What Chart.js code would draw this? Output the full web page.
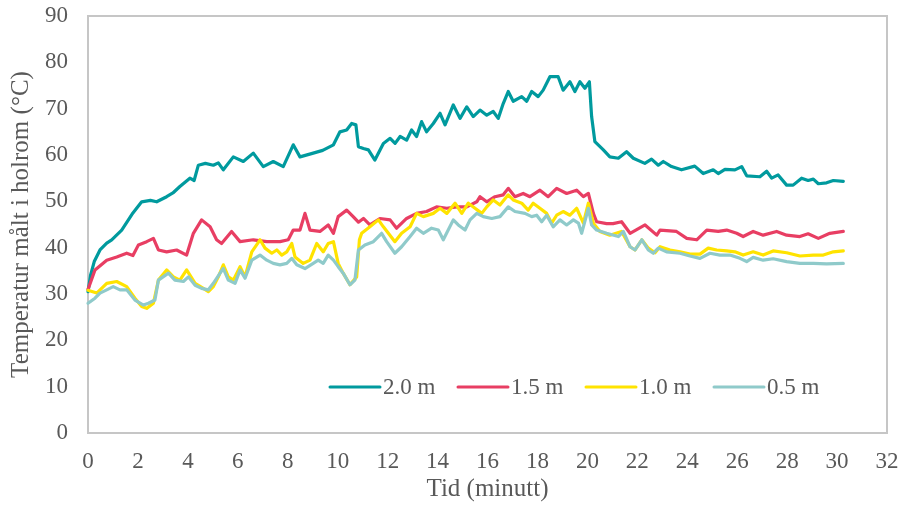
<!DOCTYPE html>
<html lang="no">
<head>
<meta charset="utf-8">
<title>Temperatur i holrom</title>
<script src="https://cdn.jsdelivr.net/npm/chart.js@4/dist/chart.umd.min.js"></script>
<style>
  html, body { margin: 0; padding: 0; background: #fff; }
  #wrap { width: 901px; height: 515px; }
</style>
</head>
<body>
<div id="wrap"><canvas id="graph" width="901" height="515"></canvas></div>
<script>
// tid (minutt) og temperatur (°C), lest av figuren
const seriesLabels = ['2.0 m', '1.5 m', '1.0 m', '0.5 m'];
const seriesColors = ['#009a9e', '#e83e63', '#ffe300', '#8fcaca'];

const t20 = [0, 0.1, 0.25, 0.48, 0.75, 0.95, 1.35, 1.8, 2.15, 2.5, 2.75, 3.15, 3.4, 3.68, 4.08, 4.25, 4.42, 4.7, 5.02, 5.22, 5.42, 5.82, 6.22, 6.62, 7.02, 7.42, 7.82, 8.22, 8.49, 9.02, 9.4, 9.83, 10.09, 10.36, 10.56, 10.73, 10.83, 11.03, 11.23, 11.49, 11.83, 12.1, 12.3, 12.5, 12.76, 12.96, 13.16, 13.36, 13.56, 13.83, 14.1, 14.3, 14.63, 14.9, 15.17, 15.43, 15.7, 15.97, 16.23, 16.43, 16.63, 16.83, 17.03, 17.37, 17.57, 17.77, 18.03, 18.23, 18.5, 18.83, 19.03, 19.3, 19.5, 19.7, 19.9, 20.08, 20.17, 20.3, 20.64, 20.9, 21.24, 21.57, 21.84, 22.3, 22.57, 22.84, 23.04, 23.37, 23.77, 24.3, 24.64, 25.04, 25.24, 25.51, 25.91, 26.18, 26.38, 26.91, 27.18, 27.38, 27.64, 27.98, 28.24, 28.58, 28.84, 29.05, 29.25, 29.58, 29.85, 30.25];
const v20 = [30.5, 34, 37, 39.5, 41, 41.7, 43.8, 47.5, 49.9, 50.2, 49.9, 51, 51.8, 53.2, 55, 54.5, 57.8, 58.2, 57.8, 58.3, 56.8, 59.6, 58.6, 60.4, 57.5, 58.6, 57.5, 62.2, 59.6, 60.4, 61, 62.2, 65, 65.4, 66.8, 66.5, 61.8, 61.4, 61.1, 58.9, 62.5, 63.6, 62.5, 64, 63.2, 65.4, 64, 67.2, 65, 66.8, 69, 66.5, 70.8, 67.9, 70.4, 68.3, 69.7, 68.6, 69.4, 67.9, 71.1, 73.7, 71.6, 72.6, 71.6, 73.7, 72.6, 74, 76.9, 76.9, 74, 75.8, 73.7, 75.8, 74.4, 75.8, 68.3, 62.9, 61.1, 59.6, 59.3, 60.7, 59.3, 58.2, 59.1, 57.8, 58.6, 57.5, 56.8, 57.6, 56, 56.8, 56, 56.9, 56.8, 57.5, 55.5, 55.3, 56.5, 55, 55.7, 53.5, 53.5, 55, 54.5, 54.8, 53.8, 54, 54.5, 54.3];

const t15 = [0, 0.28, 0.75, 1.15, 1.55, 1.8, 2.02, 2.35, 2.62, 2.82, 3.15, 3.55, 3.95, 4.22, 4.55, 4.89, 5.15, 5.35, 5.75, 6.09, 6.62, 7.16, 7.69, 8.02, 8.22, 8.49, 8.69, 8.89, 9.29, 9.62, 9.83, 10.02, 10.36, 10.62, 10.83, 11.03, 11.29, 11.69, 12.1, 12.36, 12.76, 13.16, 13.56, 13.96, 14.37, 14.77, 15.17, 15.57, 15.7, 15.97, 16.3, 16.63, 16.83, 17.1, 17.43, 17.7, 18.1, 18.43, 18.77, 19.17, 19.57, 19.84, 20.04, 20.24, 20.37, 20.77, 21.03, 21.37, 21.71, 22.31, 22.78, 22.91, 23.57, 23.98, 24.38, 24.78, 25.24, 25.58, 25.98, 26.24, 26.64, 27.04, 27.58, 27.98, 28.51, 28.84, 29.25, 29.71, 30.25];
const v15 = [31, 35.2, 37.3, 38, 38.8, 38.3, 40.6, 41.3, 42, 39.5, 39.1, 39.5, 38.4, 43.1, 46, 44.5, 41.7, 40.9, 43.5, 41.3, 41.7, 41.3, 41.3, 41.7, 43.8, 43.8, 47.4, 43.8, 43.5, 44.9, 43.1, 46.7, 48.1, 46.7, 45.5, 46.3, 44.9, 46.3, 46, 44.2, 46.3, 47.4, 47.8, 48.8, 48.5, 48.8, 48.8, 49.9, 51, 49.9, 51, 51.4, 52.8, 51, 51.7, 51, 52.4, 51, 52.8, 51.7, 52.4, 51, 51.7, 47.4, 45.6, 45.2, 45.2, 45.6, 43.1, 44.9, 42.7, 43.8, 43.5, 42, 41.7, 43.8, 43.5, 43.8, 43.1, 42.4, 43.5, 42.7, 43.5, 42.7, 42.4, 43, 42, 43.1, 43.5];

const t10 = [0, 0.35, 0.75, 1.15, 1.55, 1.88, 2.15, 2.35, 2.62, 2.82, 3.15, 3.42, 3.68, 3.95, 4.29, 4.62, 4.82, 5.02, 5.22, 5.42, 5.62, 5.82, 6.09, 6.29, 6.56, 6.89, 7.09, 7.36, 7.56, 7.76, 7.96, 8.16, 8.29, 8.62, 8.89, 9.16, 9.42, 9.62, 9.83, 10.02, 10.22, 10.49, 10.76, 10.87, 10.96, 11.29, 11.63, 11.83, 12.03, 12.29, 12.56, 12.9, 13.16, 13.43, 13.83, 14.1, 14.37, 14.7, 14.97, 15.23, 15.5, 15.77, 15.97, 16.23, 16.5, 16.83, 17.03, 17.37, 17.63, 17.83, 18.1, 18.37, 18.57, 18.77, 19.03, 19.3, 19.57, 19.84, 20.04, 20.24, 20.5, 20.9, 21.37, 21.71, 21.91, 22.18, 22.44, 22.71, 22.91, 23.31, 23.71, 24.11, 24.51, 24.84, 25.18, 25.58, 25.91, 26.24, 26.64, 27.04, 27.44, 27.98, 28.51, 29.05, 29.45, 29.85, 30.25];
const v10 = [30.8, 30.2, 32.3, 32.7, 31.6, 29.1, 27.3, 26.9, 28, 33, 35.2, 33.7, 33, 35.2, 32.3, 31.2, 30.5, 31.6, 33.7, 36.3, 33.7, 33, 35.9, 33.7, 39.1, 41.7, 39.9, 38.8, 39.5, 38.4, 39.1, 40.9, 38, 36.6, 37.3, 40.9, 39.1, 40.9, 41.3, 36.6, 34.5, 32, 33.7, 41.7, 43.1, 44.5, 46, 44.5, 43.1, 41.3, 43.1, 44.5, 47.4, 46.7, 47.4, 48.5, 47.4, 49.6, 47.4, 49.6, 48.5, 47.4, 48.8, 50.3, 49.2, 51.4, 50.3, 49.6, 48.1, 49.6, 48.5, 47.4, 45.3, 47, 47.8, 47, 48.5, 45.3, 49.6, 45.3, 43.5, 42.7, 43.5, 40.2, 39.5, 41.7, 39.9, 38.9, 40.2, 39.5, 39.1, 38.6, 38.6, 39.9, 39.5, 39.3, 39.1, 38.4, 39.1, 38.4, 39.3, 38.9, 38.2, 38.4, 38.4, 39.1, 39.3];

const t05 = [0, 0.28, 0.48, 0.75, 1.01, 1.28, 1.55, 1.88, 2.22, 2.42, 2.68, 2.82, 3.22, 3.48, 3.82, 4.02, 4.29, 4.55, 4.82, 5.02, 5.29, 5.42, 5.62, 5.89, 6.09, 6.29, 6.56, 6.89, 7.16, 7.42, 7.69, 7.96, 8.16, 8.36, 8.69, 9.02, 9.22, 9.42, 9.62, 9.83, 10.02, 10.22, 10.49, 10.69, 10.83, 11.09, 11.43, 11.76, 11.96, 12.29, 12.56, 12.9, 13.16, 13.43, 13.76, 14.03, 14.23, 14.63, 14.83, 15.1, 15.3, 15.57, 15.83, 16.17, 16.5, 16.83, 17.1, 17.5, 17.77, 17.97, 18.17, 18.37, 18.63, 18.9, 19.17, 19.44, 19.64, 19.77, 20.04, 20.17, 20.37, 20.77, 21.24, 21.44, 21.71, 21.91, 22.18, 22.44, 22.64, 22.84, 23.17, 23.71, 24.11, 24.51, 24.91, 25.31, 25.71, 26.11, 26.38, 26.64, 27.04, 27.44, 27.98, 28.51, 29.05, 29.58, 30.25];
const v05 = [28, 29.1, 30.2, 30.9, 31.6, 30.9, 30.9, 28.7, 27.6, 28, 28.7, 33, 34.5, 33, 32.7, 33.7, 31.9, 31.2, 30.9, 32.3, 34.5, 35.5, 33, 32.3, 35.2, 33.4, 37.3, 38.4, 37.3, 36.6, 36.3, 36.6, 37.7, 36.3, 35.5, 36.6, 37.3, 36.6, 38.4, 37.3, 35.9, 34.5, 32, 33, 39.5, 40.6, 41.3, 43.1, 41.3, 38.8, 40.2, 42.4, 44.2, 43.1, 44.2, 43.8, 41.7, 46, 44.9, 43.8, 46, 47.4, 46.7, 46.3, 46.7, 48.8, 47.8, 47.4, 46.7, 47, 45.6, 47, 44.5, 46, 44.9, 46, 45.3, 43.1, 48.5, 44.9, 43.8, 43.1, 42.4, 43.5, 40.2, 39.5, 41.7, 39.5, 38.8, 39.9, 39.1, 38.8, 38.2, 37.7, 38.8, 38.4, 38.4, 37.7, 37, 37.9, 37.3, 37.6, 37, 36.6, 36.6, 36.5, 36.6];

const xTicks = [0, 2, 4, 6, 8, 10, 12, 14, 16, 18, 20, 22, 24, 26, 28, 30, 32];
const yTicks = [0, 10, 20, 30, 40, 50, 60, 70, 80, 90];

document.addEventListener('DOMContentLoaded', function() {
  const ctx = document.getElementById('graph').getContext('2d');
  const textColor = '#595959';
  const fontFamily = "'Liberation Serif', 'Times New Roman', serif";
  const allT = [t20, t15, t10, t05];
  const allV = [v20, v15, v10, v05];

  function toPoints(ts, vs) {
    return ts.map((t, i) => ({ x: t, y: vs[i] }));
  }

  const datasets = seriesLabels.map((label, i) => ({
    label: label,
    data: toPoints(allT[i], allV[i]),
    borderColor: seriesColors[i],
    backgroundColor: seriesColors[i],
    borderWidth: 3.2,
    pointRadius: 0,
    tension: 0,
    borderJoinStyle: 'round',
    borderCapStyle: 'round',
    clip: false,
    order: seriesLabels.length - 1 - i // siste serie tegnes øverst, som i Excel
  }));

  // ramme rundt plottområdet
  const frame = {
    id: 'frame',
    beforeDatasetsDraw(chart) {
      const a = chart.chartArea;
      const c = chart.ctx;
      c.save();
      c.strokeStyle = '#c6c6c6';
      c.lineWidth = 2;
      c.strokeRect(a.left, a.top, a.right - a.left, a.bottom - a.top);
      c.restore();
    }
  };

  // forklaring inne i plottet, nede til høyre
  const innerLegend = {
    id: 'innerLegend',
    afterDatasetsDraw(chart) {
      const a = chart.chartArea;
      const c = chart.ctx;
      const y = a.bottom - 46;
      c.save();
      c.font = '23px ' + fontFamily;
      c.textBaseline = 'middle';
      c.textAlign = 'left';
      c.lineCap = 'round';
      c.lineWidth = 3;
      seriesLabels.forEach((label, i) => {
        const x0 = 330 + i * 128;
        c.strokeStyle = seriesColors[i];
        c.beginPath();
        c.moveTo(x0, y);
        c.lineTo(x0 + 50, y);
        c.stroke();
        c.fillStyle = textColor;
        c.fillText(label, x0 + 53, y + 1);
      });
      c.restore();
    }
  };

  new Chart(ctx, {
    type: 'line',
    data: { datasets: datasets },
    options: {
      responsive: false,
      animation: false,
      events: [],
      layout: { padding: { top: 16, right: 14, left: 0, bottom: 0 } },
      plugins: {
        legend: { display: false },
        tooltip: { enabled: false }
      },
      scales: {
        x: {
          type: 'linear',
          min: xTicks[0],
          max: xTicks[xTicks.length - 1],
          afterBuildTicks: scale => { scale.ticks = xTicks.map(v => ({ value: v })); },
          afterFit: scale => {
            scale.height = 82;
            scale.paddingLeft = 0; // ellers skyver etikettene plottet innover
            scale.paddingRight = 0;
          },
          grid: { display: false, drawTicks: false },
          border: { display: false },
          ticks: {
            padding: 15,
            maxRotation: 0,
            color: textColor,
            font: { family: fontFamily, size: 23 }
          },
          title: {
            display: true,
            text: 'Tid (minutt)',
            color: textColor,
            font: { family: fontFamily, size: 25 },
            padding: { top: 0, bottom: 11 }
          }
        },
        y: {
          type: 'linear',
          min: yTicks[0],
          max: yTicks[yTicks.length - 1],
          afterBuildTicks: scale => { scale.ticks = yTicks.map(v => ({ value: v })); },
          afterFit: scale => {
            scale.width = 88;
            scale.paddingTop = 0;
            scale.paddingBottom = 0;
          },
          grid: { display: false, drawTicks: false },
          border: { display: false },
          ticks: {
            padding: 20,
            color: textColor,
            font: { family: fontFamily, size: 23 }
          },
          title: {
            display: true,
            text: 'Temperatur målt i holrom (°C)',
            color: textColor,
            font: { family: fontFamily, size: 25 },
            padding: { top: 6, bottom: 0 }
          }
        }
      }
    },
    plugins: [frame, innerLegend]
  });
});
</script>
</body>
</html>
